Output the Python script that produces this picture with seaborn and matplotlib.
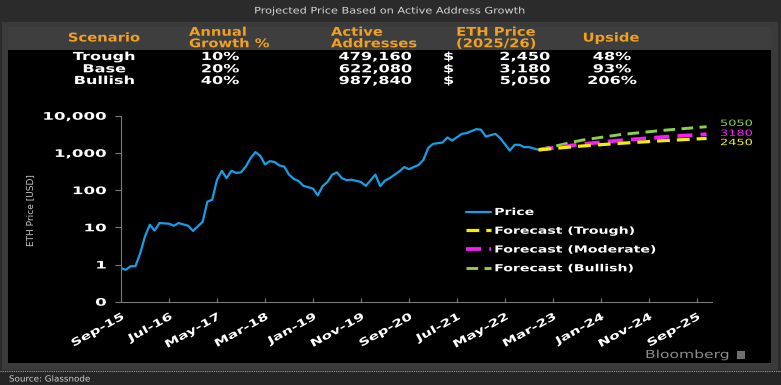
import numpy as np
import pandas as pd
import matplotlib
matplotlib.use("Agg")
import matplotlib.pyplot as plt
import seaborn as sns
from matplotlib.patches import Rectangle
from matplotlib.lines import Line2D
from matplotlib.patheffects import AbstractPathEffect
from matplotlib.transforms import Affine2D
from matplotlib.ticker import NullLocator, FixedLocator

# ---------------- data ----------------
title = "Projected Price Based on Active Address Growth"
source = "Source: Glassnode"

table_headers = ["Scenario", "Annual\nGrowth %", "Active\nAddresses", "ETH Price\n(2025/26)", "Upside"]
scenarios = ["Trough", "Base", "Bullish"]
annual_growth = ["10%", "20%", "40%"]
active_addresses = ["479,160", "622,080", "987,840"]
eth_price = ["2,450", "3,180", "5,050"]
upside = ["48%", "93%", "206%"]

price_dates = ["2015-09", "2015-10", "2015-11", "2015-12", "2016-01", "2016-02", "2016-03", "2016-04",
               "2016-05", "2016-07", "2016-08", "2016-09", "2016-11", "2016-12", "2017-02", "2017-03",
               "2017-04", "2017-05", "2017-06", "2017-07", "2017-08", "2017-09", "2017-10", "2017-11",
               "2017-12", "2018-01", "2018-02", "2018-03", "2018-04", "2018-05", "2018-06", "2018-07",
               "2018-08", "2018-09", "2018-10", "2018-11", "2018-12", "2019-01", "2019-02", "2019-03",
               "2019-04", "2019-05", "2019-06", "2019-07", "2019-08", "2019-09", "2019-11", "2019-12",
               "2020-02", "2020-03", "2020-04", "2020-05", "2020-06", "2020-07", "2020-08", "2020-09",
               "2020-11", "2020-12", "2021-01", "2021-02", "2021-04", "2021-05", "2021-06", "2021-08",
               "2021-09", "2021-11", "2021-12", "2022-01", "2022-03", "2022-04", "2022-06", "2022-07",
               "2022-08", "2022-09", "2022-10", "2022-12"]
price_values = [0.8, 0.72, 0.9, 0.9, 2.0, 5.7, 11.7, 8.2,
                13, 12.5, 11, 13, 11, 8, 14, 49,
                55, 190, 330, 210, 330, 290, 300, 430,
                720, 1050, 840, 490, 600, 570, 460, 430,
                260, 200, 175, 130, 120, 110, 72, 128,
                165, 260, 300, 210, 185, 190, 165, 130,
                260, 128, 180, 210, 260, 320, 415, 365,
                475, 650, 1350, 1750, 1900, 2600, 2150, 3250,
                3400, 4350, 4200, 2750, 3250, 2500, 1160, 1650,
                1650, 1430, 1430, 1210]

forecast_dates = ["2022-12", "2023-09", "2024-05", "2025-02", "2025-11"]
forecast_trough = [1210, 1530, 1810, 2130, 2450]
forecast_moderate = [1210, 1720, 2170, 2680, 3180]
forecast_bullish = [1210, 2200, 3100, 4050, 5050]

x_tick_labels = ["Sep-15", "Jul-16", "May-17", "Mar-18", "Jan-19", "Nov-19", "Sep-20",
                 "Jul-21", "May-22", "Mar-23", "Jan-24", "Nov-24", "Sep-25"]
y_ticks = [0.1, 1, 10, 100, 1000, 10000]
y_tick_labels = ["0", "1", "10", "100", "1,000", "10,000"]


def month_index(d):
    y, m = d.split("-")
    return (int(y) - 2015) * 12 + (int(m) - 9)


# ---------------- helpers ----------------
class HStretch(AbstractPathEffect):
    """Widen glyphs along the baseline, keeping the aligned edge in place."""
    def __init__(self, sx, align=0.0):
        super().__init__()
        self.sx = sx
        self.align = align

    def draw_path(self, renderer, gc, tpath, affine, rgbFace=None):
        ext = tpath.get_extents()
        w = ext.x1
        pre = Affine2D().translate(-self.align * w, 0).scale(self.sx, 1).translate(self.align * w, 0)
        renderer.draw_path(gc, tpath, pre + affine, rgbFace)


ALIGN = {"left": 0.0, "center": 0.5, "right": 1.0}

sns.set_theme(style="dark")
plt.rcParams["font.family"] = ["DejaVu Sans"]

W, H = 781, 385
fig = plt.figure(figsize=(W / 100, H / 100), dpi=100, facecolor="#2b2b2b")


def fx(x):
    return x / W


def fy(y):
    return 1 - y / H


def rect(x0, y0, x1, y1, color, z=-5):
    fig.add_artist(Rectangle((fx(x0), fy(y1)), (x1 - x0) / W, (y1 - y0) / H,
                             transform=fig.transFigure, facecolor=color,
                             edgecolor="none", zorder=z))


def ftext(x, y, s, size, color, ha="left", va="center", weight="bold", sx=1.0, **kw):
    t = fig.text(fx(x), fy(y), s, fontsize=size, color=color, ha=ha, va=va,
                 fontweight=weight, **kw)
    if sx != 1.0:
        t.set_path_effects([HStretch(sx, ALIGN[ha])])
    return t


# ---------------- background panels ----------------
rect(2, 22, 778, 370, "#3a3a3a", -6)
rect(8, 50, 771, 363, "#000000", -5)
rect(8, 27, 771, 50, "#3e3e3e", -5)
rect(0, 372, 781, 385, "#252525", -5)
fig.add_artist(Line2D([0, 1], [fy(371), fy(371)], transform=fig.transFigure,
                      color="#9a9a9a", lw=0.8, ls=(0, (1, 1)), zorder=-4))

# title & source
ftext(390, 11, title, 6.5, "#d6d6d6", ha="center", weight="normal", sx=1.25)
ftext(9, 379, source, 6, "#d0d0d0", ha="left", weight="normal", sx=1.05)
ftext(645, 355, "Bloomberg", 8, "#8c8c8c", ha="left", weight="normal", sx=1.4)
rect(737, 351, 745, 359, "#6e6e6e", -3)

# ---------------- table ----------------
ORANGE = "#f0a022"
hdr_y = 38
ftext(104, hdr_y, table_headers[0], 8.7, ORANGE, ha="center", sx=1.22)
ftext(189, hdr_y, table_headers[1], 8.7, ORANGE, ha="left", sx=1.22, linespacing=0.85)
ftext(331, hdr_y, table_headers[2], 8.7, ORANGE, ha="left", sx=1.22, linespacing=0.85)
ftext(496, hdr_y, table_headers[3], 8.7, ORANGE, ha="center", sx=1.22, linespacing=0.85)
ftext(611, hdr_y, table_headers[4], 8.7, ORANGE, ha="center", sx=1.22)

row_y = [57, 69.3, 81]
for i in range(len(scenarios)):
    y = row_y[i]
    ftext(104, y, scenarios[i], 8, "white", ha="center", sx=1.45)
    ftext(220, y, annual_growth[i], 8, "white", ha="center", sx=1.45)
    ftext(412, y, active_addresses[i], 8, "white", ha="right", sx=1.45)
    ftext(443, y, "$", 8, "white", ha="left", sx=1.45)
    ftext(550, y, eth_price[i], 8, "white", ha="right", sx=1.45)
    ftext(612, y, upside[i], 8, "white", ha="center", sx=1.45)

# ---------------- chart ----------------
ax = fig.add_axes([fx(121), fy(301.7), 591 / W, (301.7 - 115.7) / H])
ax.set_facecolor("black")
ax.grid(False)

price_df = pd.DataFrame({"m": [month_index(d) for d in price_dates], "price": price_values})
fc_m = [month_index(d) for d in forecast_dates]
fc_df = pd.DataFrame({
    "m": fc_m * 3,
    "value": forecast_trough + forecast_moderate + forecast_bullish,
    "series": (["Forecast (Trough)"] * len(fc_m) + ["Forecast (Moderate)"] * len(fc_m)
               + ["Forecast (Bullish)"] * len(fc_m)),
})

BLUE = "#14a0e6"
YELLOW = "#f5f000"
MAGENTA = "#f51ef5"
GREEN = "#8ccf4d"

sns.lineplot(data=price_df, x="m", y="price", ax=ax, color=BLUE, lw=1.6, label="Price")
styles = {"Forecast (Bullish)": (GREEN, 2.1),
          "Forecast (Moderate)": (MAGENTA, 2.7),
          "Forecast (Trough)": (YELLOW, 2.3)}
order = ["Forecast (Trough)", "Forecast (Moderate)", "Forecast (Bullish)"]
for name in ["Forecast (Bullish)", "Forecast (Moderate)", "Forecast (Trough)"]:
    col, lw = styles[name]
    sub = fc_df[fc_df["series"] == name]
    sns.lineplot(data=sub, x="m", y="value", ax=ax, color=col, lw=lw, label=name,
                 dashes=False)
    ax.lines[-1].set_dashes((4, 2.2))

ax.set_yscale("log")
ax.set_ylim(0.1, 10000)
ax.set_xlim(0, 591 / 4.8)
ax.yaxis.set_major_locator(FixedLocator(y_ticks))
ax.yaxis.set_minor_locator(NullLocator())
ax.set_yticklabels(y_tick_labels)
ax.xaxis.set_major_locator(FixedLocator(list(range(0, 121, 10))))
ax.set_xticklabels(x_tick_labels)
ax.set_xlabel("")
ax.set_ylabel("")

for side in ["top", "right"]:
    ax.spines[side].set_visible(False)
for side in ["left", "bottom"]:
    ax.spines[side].set_visible(True)
    ax.spines[side].set_color("#7a7a7a")
    ax.spines[side].set_linewidth(0.8)

ax.tick_params(axis="y", which="major", direction="out", length=4, width=0.8,
               color="#7a7a7a", pad=6.5, labelsize=7.5, labelcolor="white", left=True)
ax.tick_params(axis="x", which="major", direction="in", length=3, width=0.8,
               color="#7a7a7a", pad=7, labelsize=7.5, labelcolor="white", bottom=True)
for lab in ax.get_yticklabels():
    lab.set_fontweight("bold")
    lab.set_path_effects([HStretch(1.6, 1.0)])
for lab in ax.get_xticklabels():
    lab.set_fontweight("bold")
    lab.set_rotation(29)
    lab.set_ha("right")
    lab.set_va("top")
    lab.set_rotation_mode("anchor")
    lab.set_path_effects([HStretch(1.45, 1.0)])

# y label
ftext(31, 210, "ETH Price [USD]", 6.5, "#c8c8c8", ha="center", weight="normal", rotation=90)

# end labels
end_info = [(forecast_bullish[-1], GREEN, 2.4), (forecast_moderate[-1], MAGENTA, 0.6),
            (forecast_trough[-1], YELLOW, -3.0)]
for val, col, dy in end_info:
    t = ax.annotate(f"{val}", xy=((720 - 121) / 4.8, val), xytext=(0, dy),
                    textcoords="offset points", color=col, fontsize=6.2, va="center",
                    ha="left", annotation_clip=False)
    t.set_path_effects([HStretch(1.5, 0.0)])

# legend
handles, labels = ax.get_legend_handles_labels()
hmap = dict(zip(labels, handles))
leg_order = ["Price"] + order
leg = fig.legend([hmap[k] for k in leg_order], leg_order, loc="upper left",
                 bbox_to_anchor=(fx(466), fy(207)), bbox_transform=fig.transFigure,
                 frameon=False, fontsize=7, handlelength=2.6, handletextpad=0.3,
                 labelspacing=0.9, borderpad=0, borderaxespad=0)
if ax.get_legend() is not None:
    ax.get_legend().remove()
for t in leg.get_texts():
    t.set_color("white")
    t.set_fontweight("bold")
    t.set_path_effects([HStretch(1.45, 0.0)])

fig.savefig("out.png", dpi=100, facecolor=fig.get_facecolor())
